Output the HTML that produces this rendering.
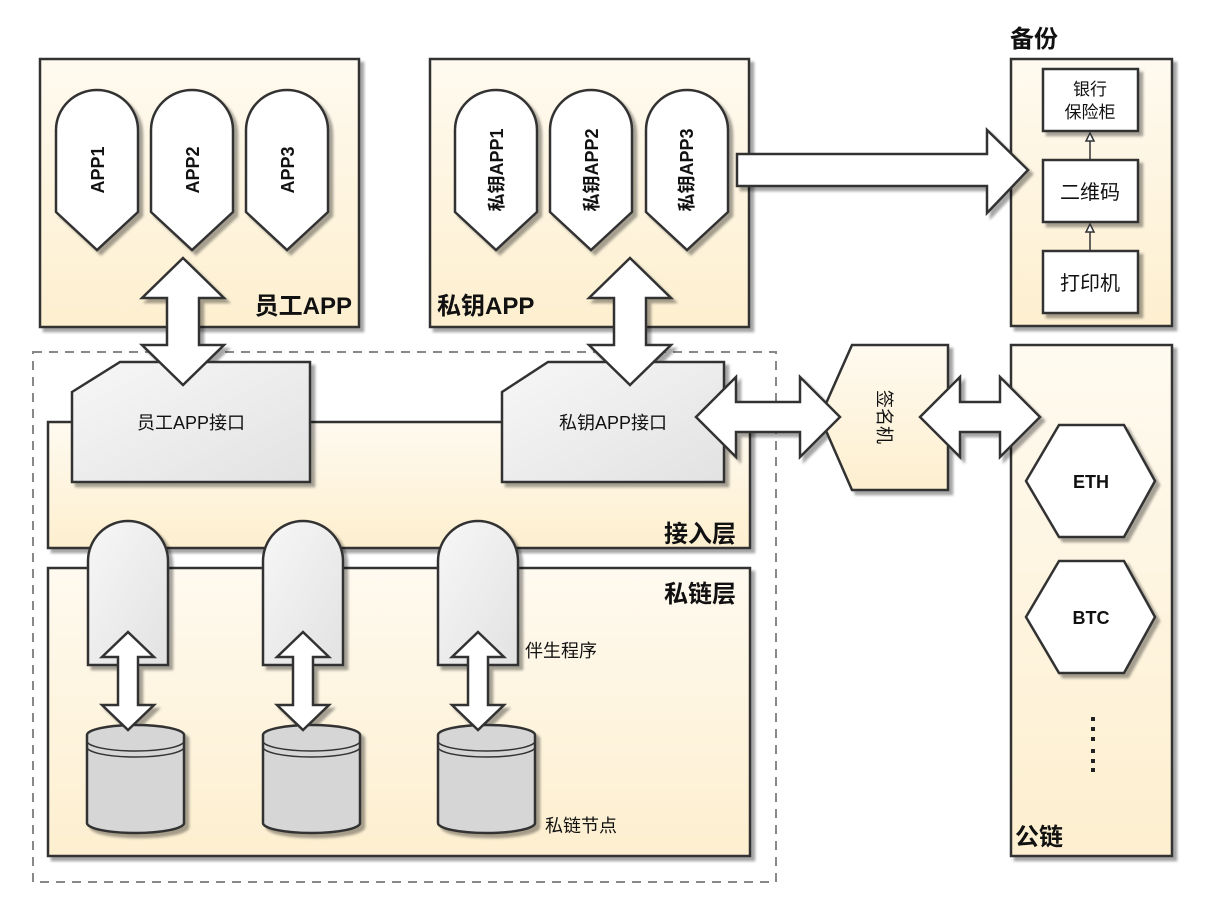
<!DOCTYPE html>
<html><head><meta charset="utf-8"><style>
html,body{margin:0;padding:0;background:#fff;}
svg{display:block;}
text{font-family:"Liberation Sans","Noto Sans CJK SC",sans-serif;fill:#111;}
</style></head><body>
<svg width="1206" height="910" viewBox="0 0 1206 910" xmlns="http://www.w3.org/2000/svg">
<defs>
<linearGradient id="y" x1="0" y1="0" x2="0" y2="1"><stop offset="0" stop-color="#fffaf0"/><stop offset="1" stop-color="#fdefcf"/></linearGradient>
<linearGradient id="g" x1="0" y1="0" x2="1" y2="1"><stop offset="0" stop-color="#f7f7f7"/><stop offset="1" stop-color="#e2e2e2"/></linearGradient>
<filter id="s" x="-10%" y="-10%" width="130%" height="130%"><feDropShadow dx="4" dy="4" stdDeviation="1.2" flood-color="#000" flood-opacity="0.35"/></filter>
</defs>
<g stroke="#333" stroke-width="2.5" filter="url(#s)">
<rect x="40" y="59" width="319" height="268" fill="url(#y)"/>
<rect x="430" y="59" width="319" height="268" fill="url(#y)"/>
<rect x="1011" y="59" width="161" height="267" fill="url(#y)"/>
<rect x="1011" y="345" width="161" height="511" fill="url(#y)"/>
<rect x="48" y="422" width="702" height="126" fill="url(#y)"/>
<rect x="48" y="568" width="702" height="288" fill="url(#y)"/>
</g>
<rect x="33" y="352" width="743" height="530" fill="none" stroke="#888" stroke-width="2" stroke-dasharray="9,7"/>
<g stroke="#333" stroke-width="2.5" filter="url(#s)">
<g fill="#fff">
<path d="M56,130 A41,40 0 0 1 138,130 L138,212 L97,250 L56,212 Z"/>
<path d="M151,130 A41,40 0 0 1 233,130 L233,212 L192,250 L151,212 Z"/>
<path d="M246,130 A41,40 0 0 1 328,130 L328,212 L287,250 L246,212 Z"/>
<path d="M455,130 A41,40 0 0 1 537,130 L537,212 L496,250 L455,212 Z"/>
<path d="M550,130 A41,40 0 0 1 632,130 L632,212 L591,250 L550,212 Z"/>
<path d="M646,130 A41,40 0 0 1 728,130 L728,212 L687,250 L646,212 Z"/>
</g>
<path d="M72,392 L120,362 L310,362 L310,482 L72,482 Z" fill="url(#g)"/>
<path d="M502,392 L548,362 L724,362 L724,482 L502,482 Z" fill="url(#g)"/>
<path d="M88,665 L88,561 A40,40 0 0 1 168,561 L168,665 Z" fill="url(#g)"/>
<path d="M263,665 L263,561 A40,40 0 0 1 343,561 L343,665 Z" fill="url(#g)"/>
<path d="M438,665 L438,561 A40,40 0 0 1 518,561 L518,665 Z" fill="url(#g)"/>
<g fill="#d6d6d6">
<path d="M87,735 A48.5,10 0 0 1 184,735 L184,823 A48.5,10 0 0 1 87,823 Z"/>
<path d="M263,735 A48.5,10 0 0 1 360,735 L360,823 A48.5,10 0 0 1 263,823 Z"/>
<path d="M438,735 A48.5,10 0 0 1 535,735 L535,823 A48.5,10 0 0 1 438,823 Z"/>
</g>
<rect x="1043" y="69" width="95" height="62" fill="#fff"/>
<rect x="1043" y="160" width="95" height="62" fill="#fff"/>
<rect x="1043" y="251" width="95" height="62" fill="#fff"/>
<path d="M852,345 L948,345 L948,490 L852,490 L820,417 Z" fill="url(#y)"/>
<polygon points="1026,481 1059,425 1124,425 1155,481 1124,537 1059,537" fill="#fff"/>
<polygon points="1026,617 1059,561 1124,561 1155,617 1124,673 1059,673" fill="#fff"/>
<g fill="#fff">
<polygon points="183,258 224,298 199,298 199,345 224,345 183,385 142,345 167,345 167,298 142,298"/>
<polygon points="630,258 671,298 646,298 646,345 671,345 630,385 589,345 614,345 614,298 589,298"/>
<polygon points="696,417 736,377 736,402 800,402 800,377 840,417 800,457 800,432 736,432 736,457"/>
<polygon points="920,417 960,377 960,402 1000,402 1000,377 1040,417 1000,457 1000,432 960,432 960,457"/>
<polygon points="128,632 154,657 138,657 138,705 154,705 128,730 102,705 118,705 118,657 102,657"/>
<polygon points="303,632 329,657 313,657 313,705 329,705 303,730 277,705 293,705 293,657 277,657"/>
<polygon points="478,632 504,657 488,657 488,705 504,705 478,730 452,705 468,705 468,657 452,657"/>
<polygon points="737,154 987,154 987,130 1028,170 987,213 987,186 737,186"/>
</g>
</g>
<g fill="none" stroke="#333" stroke-width="1.5">
<path d="M87,741 A48.5,10 0 0 0 184,741 M87,747 A48.5,10 0 0 0 184,747"/>
<path d="M263,741 A48.5,10 0 0 0 360,741 M263,747 A48.5,10 0 0 0 360,747"/>
<path d="M438,741 A48.5,10 0 0 0 535,741 M438,747 A48.5,10 0 0 0 535,747"/>
</g>
<g stroke="#333" stroke-width="1.5" fill="#fff">
<line x1="1090" y1="160" x2="1090" y2="140"/><polygon points="1090,133 1094,141 1086,141"/>
<line x1="1090" y1="251" x2="1090" y2="231"/><polygon points="1090,224 1094,232 1086,232"/>
</g>
<g font-weight="bold" font-size="18" text-anchor="middle">
<text transform="translate(104,170) rotate(-90)">APP1</text>
<text transform="translate(199,170) rotate(-90)">APP2</text>
<text transform="translate(294,170) rotate(-90)">APP3</text>
<text transform="translate(503,170) rotate(-90)">私钥APP1</text>
<text transform="translate(598,170) rotate(-90)">私钥APP2</text>
<text transform="translate(693,170) rotate(-90)">私钥APP3</text>
<text x="1091" y="488">ETH</text>
<text x="1091" y="624">BTC</text>
</g>
<g font-weight="bold" font-size="24">
<text x="352" y="314" text-anchor="end">员工APP</text>
<text x="437" y="314">私钥APP</text>
<text x="1010" y="47">备份</text>
<text x="736" y="542" text-anchor="end">接入层</text>
<text x="736" y="602" text-anchor="end">私链层</text>
<text x="1015" y="845">公链</text>
</g>
<g font-size="18" text-anchor="middle">
<text x="191" y="429">员工APP接口</text>
<text x="613" y="429">私钥APP接口</text>
<text x="1090" y="95" font-size="17">银行</text>
<text x="1090" y="118" font-size="17">保险柜</text>
<text x="1090" y="199" font-size="20">二维码</text>
<text x="1090" y="290" font-size="20">打印机</text>
<text transform="translate(878,417) rotate(90)">签名机</text>
</g>
<g font-size="18">
<text x="525" y="657">伴生程序</text>
<text x="545" y="832">私链节点</text>
</g>
<g fill="#222">
<rect x="1091" y="717" width="4" height="4"/><rect x="1091" y="727" width="4" height="4"/><rect x="1091" y="737" width="4" height="4"/>
<rect x="1091" y="749" width="4" height="4"/><rect x="1091" y="759" width="4" height="4"/><rect x="1091" y="768" width="4" height="4"/>
</g>
</svg>
</body></html>
